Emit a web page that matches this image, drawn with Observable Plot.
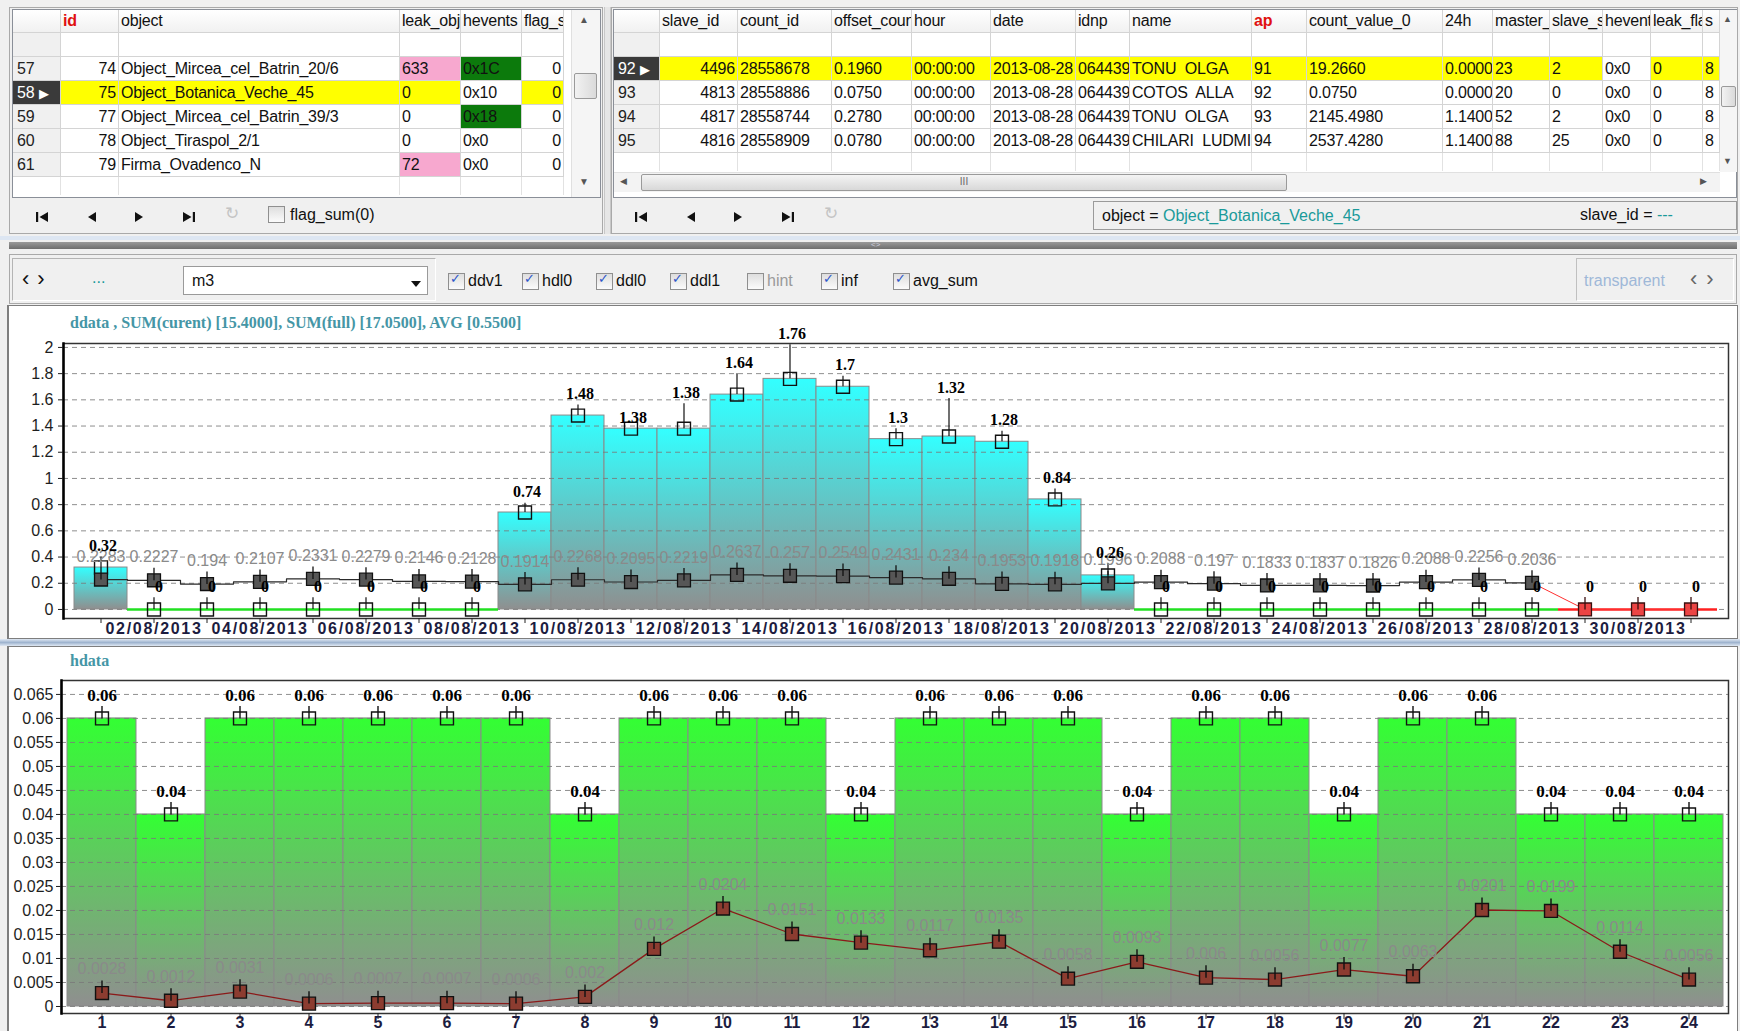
<!DOCTYPE html>
<html>
<head>
<meta charset="utf-8">
<script src="https://cdn.jsdelivr.net/npm/d3@7"></script>
<script src="https://cdn.jsdelivr.net/npm/@observablehq/plot@0.6"></script>
<style>
*{box-sizing:border-box;}
html,body{margin:0;padding:0;}
body{width:1740px;height:1031px;position:relative;overflow:hidden;background:#f0f0f0;font-family:"Liberation Sans",Arial,sans-serif;font-size:16px;color:#111;}
.a{position:absolute;}
.cell{position:absolute;white-space:pre;overflow:hidden;padding:0 2px;border-right:1px solid #d4d4d4;border-bottom:1px solid #d4d4d4;line-height:23px;letter-spacing:-0.2px;}
.chk{position:absolute;width:15px;height:15px;border:1px solid #8f8f8f;background:linear-gradient(#dedede,#fbfbfb);}
.chk.on::after{content:"\2713";position:absolute;left:1px;top:-3px;font-family:"DejaVu Sans";font-size:13px;font-weight:bold;color:#2c55c8;}
.plotbox svg{overflow:visible;display:block;}
#topchart g[aria-label="x-axis tick label"] text{letter-spacing:1.7px;}
</style>
</head>
<body>
<script>
// ===== chart data =====
// top chart: ddata, daily values August 2013
const ddDays = [1,2,3,4,5,6,7,8,9,10,11,12,13,14,15,16,17,18,19,20,21,22,23,24,25,26,27,28,29,30,31];
const ddValue = [0.32,0,0,0,0,0,0,0,0.74,1.48,1.38,1.38,1.64,1.76,1.7,1.3,1.32,1.28,0.84,0.26,0,0,0,0,0,0,0,0,0,0,0];
const ddTop = [0.40,0.09,0.09,0.09,0.09,0.09,0.09,0.09,0.81,1.56,1.38,1.57,1.80,2.02,1.78,1.38,1.61,1.36,0.92,0.35,0.09,0.09,0.09,0.09,0.09,0.09,0.09,0.09,0.09,0.09,0.09];
const ddAvg = [0.2283,0.2227,0.194,0.2107,0.2331,0.2279,0.2146,0.2128,0.1914,0.2268,0.2095,0.2219,0.2637,0.257,0.2549,0.2431,0.234,0.1953,0.1918,0.1996,0.2088,0.197,0.1833,0.1837,0.1826,0.2088,0.2256,0.2036,null,null,null];
const ddMissing = [false,false,false,false,false,false,false,false,false,false,false,false,false,false,false,false,false,false,false,false,false,false,false,false,false,false,false,false,true,true,true];
const ddTitle = "ddata , SUM(curent) [15.4000], SUM(full) [17.0500], AVG [0.5500]";
// bottom chart: hdata, hourly values
const hHours = [1,2,3,4,5,6,7,8,9,10,11,12,13,14,15,16,17,18,19,20,21,22,23,24];
const hValue = [0.06,0.04,0.06,0.06,0.06,0.06,0.06,0.04,0.06,0.06,0.06,0.04,0.06,0.06,0.06,0.04,0.06,0.06,0.04,0.06,0.06,0.04,0.04,0.04];
const hAvg = [0.0028,0.0012,0.0031,0.0006,0.0007,0.0007,0.0006,0.002,0.012,0.0204,0.0151,0.0133,0.0117,0.0135,0.0058,0.0093,0.006,0.0056,0.0077,0.0063,0.0201,0.0199,0.0114,0.0056];
const hTitle = "hdata";

// ===== table data =====
const leftCols = [
  {h:"", w:48}, {h:"id", w:58, al:"right", red:true}, {h:"object", w:281}, {h:"leak_obj", w:61},
  {h:"hevents", w:61}, {h:"flag_sum", w:42, al:"right"}
];
const leftRows = [
  {n:"57", c:["74","Object_Mircea_cel_Batrin_20/6","633","0x1C","0"], bg:{2:"#f7a8cf",3:"#0c7a0c"}},
  {n:"58", sel:true, c:["75","Object_Botanica_Veche_45","0","0x10","0"], bg:{3:"#ffffff"}},
  {n:"59", c:["77","Object_Mircea_cel_Batrin_39/3","0","0x18","0"], bg:{3:"#0c7a0c"}},
  {n:"60", c:["78","Object_Tiraspol_2/1","0","0x0","0"]},
  {n:"61", c:["79","Firma_Ovadenco_N","72","0x0","0"], bg:{2:"#f7a8cf"}}
];
const rightCols = [
  {h:"", w:46}, {h:"slave_id", w:78, al:"right"}, {h:"count_id", w:94}, {h:"offset_count", w:80},
  {h:"hour", w:79}, {h:"date", w:85}, {h:"idnp", w:54}, {h:"name", w:122}, {h:"ap", w:55, red:true},
  {h:"count_value_0", w:136}, {h:"24h", w:50}, {h:"master_id", w:57}, {h:"slave_status", w:53},
  {h:"hevents", w:48}, {h:"leak_flag", w:52}, {h:"s", w:17}
];
const rightRows = [
  {n:"92", sel:true, c:["4496","28558678","0.1960","00:00:00","2013-08-28","0644390000000","TONU  OLGA","91","19.2660","0.0000","23","2","0x0","0","8"], bg:{12:"#ffffff"}},
  {n:"93", c:["4813","28558886","0.0750","00:00:00","2013-08-28","0644390000000","COTOS  ALLA","92","0.0750","0.0000","20","0","0x0","0","8"]},
  {n:"94", c:["4817","28558744","0.2780","00:00:00","2013-08-28","0644390000000","TONU  OLGA","93","2145.4980","1.1400","52","2","0x0","0","8"]},
  {n:"95", c:["4816","28558909","0.0780","00:00:00","2013-08-28","0644390000000","CHILARI  LUDMILA","94","2537.4280","1.1400","88","25","0x0","0","8"]}
];
const toolChecks = [["ddv1",true],["hdl0",true],["ddl0",true],["ddl1",true],["hint",false],["inf",true],["avg_sum",true]];

// ===== helpers =====
function el(x,y,w,h,css,html,cls){
  const d=document.createElement("div");
  d.className=cls||"a";
  Object.assign(d.style,{left:x+"px",top:y+"px"});
  if(w!=null) d.style.width=w+"px";
  if(h!=null) d.style.height=h+"px";
  Object.assign(d.style,css||{});
  if(html!=null) d.innerHTML=html;
  document.body.appendChild(d);
  return d;
}
function drawGrid(x0, cols, rows){
  let x=x0;
  cols.forEach((c,i)=>{
    el(x,10,c.w,23,{background:"linear-gradient(#ffffff,#f1f1f1)",color:c.red?"#e01010":"#111",fontWeight:c.red?"bold":"normal",lineHeight:"22px"},c.h,"cell");
    el(x,33,c.w,24,{background:i===0?"#f0f0f0":"#fff"},"","cell");
    rows.forEach((r,j)=>{
      const y=57+24*j;
      if(i===0){
        el(x,y,c.w,24,{background:r.sel?"#3a3a3a":"#f0f0f0",color:r.sel?"#fff":"#222",paddingLeft:"4px"},r.n+(r.sel?'<span style="font-size:13px;margin-left:5px">&#9654;</span>':""),"cell");
      } else {
        let bg=r.sel?"#ffff00":"#fff";
        if(r.bg && r.bg[i-1]) bg=r.bg[i-1];
        el(x,y,c.w,24,{background:bg,textAlign:c.al||"left"},r.c[i-1],"cell");
      }
    });
    el(x,57+24*rows.length,c.w,18,{borderBottom:"none",borderRight:"1px solid #e2e2e2"},"","cell");
    x+=c.w;
  });
  return x;
}
function navIcons(x0,y){
  const ic=[
    '<svg width="14" height="12"><rect x="1" y="1" width="2.2" height="10" fill="#111"/><path d="M13 1 L4.5 6 L13 11Z" fill="#111"/></svg>',
    '<svg width="14" height="12"><path d="M11 1 L3 6 L11 11Z" fill="#111"/></svg>',
    '<svg width="14" height="12"><path d="M3 1 L11 6 L3 11Z" fill="#111"/></svg>',
    '<svg width="14" height="12"><path d="M1 1 L9.5 6 L1 11Z" fill="#111"/><rect x="10.8" y="1" width="2.2" height="10" fill="#111"/></svg>'
  ];
  const dx=[0,50,97,147];
  ic.forEach((s,i)=>el(x0+dx[i],y,16,14,{},s));
  el(x0+190,y-6,20,22,{color:"#c4c4c4",fontFamily:"DejaVu Sans",fontSize:"17px"},"&#8635;");
}

// ===== top grids =====
el(9,7,594,227,{border:"1px solid #a9a9a9",background:"#f0f0f0"});
el(12,9,589,189,{background:"#fff",border:"1px solid #8a8f98"});
drawGrid(13,leftCols,leftRows);
el(571,10,29,187,{background:"#f5f5f5",borderLeft:"1px solid #e0e0e0"});
el(579,14,14,14,{fontSize:"10px",color:"#555"},"&#9650;");
el(579,176,14,14,{fontSize:"10px",color:"#555"},"&#9660;");
el(574,73,23,26,{background:"linear-gradient(90deg,#f2f2f2,#dadada)",border:"1px solid #9a9a9a",borderRadius:"2px"});
navIcons(35,209);
el(268,206,17,17,{},"","chk");
el(290,203,120,24,{lineHeight:"24px"},"flag_sum(0)");

el(604,7,7,227,{background:"#e6e6e6",borderLeft:"1px solid #c8c8c8",borderRight:"1px solid #c8c8c8"});
el(611,7,1127,227,{border:"1px solid #a9a9a9",background:"#f0f0f0"});
el(613,9,1124,189,{background:"#fff",border:"1px solid #8a8f98"});
drawGrid(614,rightCols,rightRows);
el(1720,10,17,162,{background:"#f5f5f5"});
el(1723,14,12,12,{fontSize:"9px",color:"#555"},"&#9650;");
el(1723,156,12,12,{fontSize:"9px",color:"#555"},"&#9660;");
el(1721,86,15,21,{background:"linear-gradient(90deg,#f2f2f2,#dadada)",border:"1px solid #9a9a9a",borderRadius:"2px"});
el(614,172,1106,20,{background:"#f3f3f3",borderTop:"1px solid #e0e0e0"});
el(620,176,12,12,{fontSize:"9px",color:"#555"},"&#9664;");
el(1700,176,12,12,{fontSize:"9px",color:"#555"},"&#9654;");
el(641,174,646,17,{background:"linear-gradient(#f4f4f4,#d8d8d8)",border:"1px solid #9a9a9a",borderRadius:"2px",textAlign:"center",fontSize:"10px",lineHeight:"14px",color:"#666"},"III");
navIcons(634,209);
el(1093,201,644,29,{border:"1px solid #9a9a9a",background:"#f0f0f0",lineHeight:"27px",paddingLeft:"8px"},'object = <span style="color:#1a9a9a">Object_Botanica_Veche_45</span>');
el(1580,203,150,24,{lineHeight:"24px"},'slave_id = <span style="color:#1a9a9a">---</span>');

// splitter
el(0,236,1740,4,{background:"#dde6f2"});
el(9,242,1728,7,{background:"linear-gradient(#9a9a9a,#6e6e6e)"});
el(871,241,20,8,{fontSize:"8px",color:"#ccd",lineHeight:"8px"},"&lt;&gt;");

// toolbar
el(9,254,1728,50,{border:"1px solid #a9a9a9",background:"#f0f0f0"});
el(12,258,424,43,{border:"1px solid #b4b4b4",borderRightColor:"#fff",borderBottomColor:"#fff"});
el(22,266,40,26,{lineHeight:"26px",fontSize:"22px",letterSpacing:"8px"},"&#8249;&#8250;");
el(92,266,30,24,{lineHeight:"24px",color:"#1a9a9a"},"...");
el(183,266,245,29,{background:"#fff",border:"1px solid #9a9a9a",lineHeight:"27px",paddingLeft:"8px"},"m3");
el(410,275,12,10,{},'<svg width="12" height="10"><path d="M1 2 L11 2 L6 8Z" fill="#111"/></svg>');
const chkX=[448,522,596,670,747,821,893];
toolChecks.forEach(([lab,on],i)=>{
  el(chkX[i],273,17,17,{},"", on?"chk on":"chk");
  el(chkX[i]+20,268,80,26,{lineHeight:"26px",color:on?"#111":"#9a9a9a"},lab);
});
el(1576,258,158,43,{border:"1px solid #c0c0c0",borderRightColor:"#fff",borderBottomColor:"#fff"});
el(1584,268,100,26,{lineHeight:"26px",color:"#9fb8d8"},"transparent");
el(1690,266,44,26,{lineHeight:"26px",fontSize:"22px",letterSpacing:"9px",color:"#666"},"&#8249;&#8250;");

// chart panels
el(7,305,1731,334,{background:"#fff",border:"1px solid #7e7e7e",borderLeftWidth:"2px"});
el(0,639,1740,7,{background:"linear-gradient(#dfe8f3,#9fb4cf,#dfe8f3)"});
el(7,646,1731,400,{background:"#fff",border:"1px solid #7e7e7e",borderLeftWidth:"2px"});

// ===== charts =====
const sqTick = {draw(ctx,size){const h=Math.sqrt(size)/2;ctx.moveTo(-h,-h);ctx.lineTo(h,-h);ctx.lineTo(h,h);ctx.lineTo(-h,h);ctx.closePath();ctx.moveTo(0,-h-6);ctx.lineTo(0,0);}};
const gradDefs=(id,topColor)=>()=>{
  const s=d3.create("svg:defs");
  const g=s.append("linearGradient").attr("id",id).attr("x1","0").attr("y1","0").attr("x2","0").attr("y2","1");
  g.append("stop").attr("offset","0").attr("stop-color",topColor);
  g.append("stop").attr("offset","1").attr("stop-color","#8f8f8f");
  return s.node();
};
const serif="Liberation Serif, Times New Roman, serif";
const sans="Liberation Sans, Arial, sans-serif";

try {
  const dd = ddDays.map((day,i)=>({day, v:ddValue[i], top:ddTop[i], avg:ddAvg[i], miss:ddMissing[i]}));
  const ddBars = dd.filter(d=>d.v>0);
  const ddZero = dd.filter(d=>d.v===0 && !d.miss);
  const ddMiss = dd.filter(d=>d.miss);
  const ddAvgRows = dd.filter(d=>d.avg!=null);
  const firstMiss = dd.findIndex(d=>d.miss);
  const ddRed = dd.slice(firstMiss-1).map(d=>({day:d.day, y:d.miss?0:d.avg}));
  const ddYTicks = d3.ticks(0,2,10);

  const topPlot = Plot.plot({
    width:1726, height:326, marginLeft:54, marginRight:7, marginTop:31, marginBottom:20,
    style:{fontFamily:sans, fontSize:"16px", background:"transparent", overflow:"visible", color:"#1e1e1e"},
    x:{type:"band", domain:ddDays, padding:0, axis:null, label:null},
    y:{domain:[-0.069,2.03], axis:null, label:null},
    marks:[
      gradDefs("gCyan","#33ffff"),
      Plot.barY(ddBars,{x:"day",y:"v",fill:"url(#gCyan)",stroke:"#8a8a8a",strokeWidth:1}),
      Plot.gridY(ddYTicks,{stroke:"#7a7a7a",strokeOpacity:0.85,strokeDasharray:"5,4"}),
      Plot.tickY(ddZero,{x:"day",y:()=>0,stroke:"#22e022",strokeWidth:2.5}),
      Plot.tickY(ddMiss,{x:"day",y:()=>0,stroke:"#ff2020",strokeWidth:2.5}),
      Plot.line(ddAvgRows,{x:"day",y:"avg",stroke:"#2a2a2a",strokeWidth:1.2,curve:"step"}),
      Plot.line(ddRed,{x:"day",y:"y",stroke:"#ff3030",strokeWidth:1}),
      Plot.ruleX(dd.filter(d=>!d.miss),{x:"day",y1:"v",y2:"top",stroke:"#111",strokeWidth:1.2}),
      Plot.dot(dd.filter(d=>!d.miss),{x:"day",y:"v",symbol:"square",r:7.3,fill:"none",stroke:"#111",strokeWidth:1.4}),
      Plot.dot(ddAvgRows,{x:"day",y:"avg",symbol:sqTick,r:7.3,fill:"#565656",stroke:"#111",strokeWidth:1.3}),
      Plot.dot(ddMiss,{x:"day",y:()=>0,symbol:sqTick,r:7.3,fill:"#ec4444",stroke:"#3a1010",strokeWidth:1.3}),
      Plot.text(ddAvgRows,{x:"day",y:"avg",text:d=>String(d.avg),dy:-23,fill:"#8a8a8a",fontSize:16}),
      Plot.text(ddBars,{x:"day",y:"top",text:d=>String(d.v),dy:-11,dx:2,fontFamily:serif,fontWeight:"bold",fontSize:16,fill:"#000"}),
      Plot.text(dd.filter(d=>d.v===0),{x:"day",y:"top",text:d=>String(d.v),dy:-11,dx:5,fontFamily:serif,fontWeight:"bold",fontSize:16,fill:"#000"}),
      Plot.frame({stroke:"#333",strokeWidth:1.5}),
      Plot.frame({anchor:"left",stroke:"#000",strokeWidth:2.5,strokeDasharray:"2,1.5"}),
      Plot.axisY(ddYTicks,{tickSize:5,tickPadding:5,tickFormat:d=>String(d),fontSize:16,color:"#1e1e1e",label:null}),
      Plot.axisX(ddDays,{tickSize:5,tickFormat:()=>"",color:"#222",label:null}),
      Plot.axisX(ddDays.filter(d=>d%2===0),{tickSize:0,tickPadding:4,tickFormat:d=>String(d).padStart(2,"0")+"/08/2013",fontWeight:"bold",fontSize:16,color:"#1c1c40",label:null})
    ]
  });
  const tb = el(9,312,1726,326,{},null,"a plotbox"); tb.id="topchart"; tb.appendChild(topPlot);
  el(70,312,900,22,{fontFamily:serif,fontWeight:"bold",fontSize:"16px",color:"#4596a6",lineHeight:"22px"},ddTitle);

  const hd = hHours.map((hour,i)=>({hour, v:hValue[i], avg:hAvg[i]}));
  const hYTicks = d3.ticks(0,0.065,13);
  const botPlot = Plot.plot({
    width:1726, height:359, marginLeft:52, marginRight:7, marginTop:8, marginBottom:18,
    style:{fontFamily:sans, fontSize:"16px", background:"transparent", overflow:"visible", color:"#1e1e1e"},
    x:{type:"band", domain:hHours, padding:0, axis:null, label:null},
    y:{domain:[-0.00146,0.0679], axis:null, label:null},
    marks:[
      gradDefs("gGreen","#33ff33"),
      Plot.barY(hd,{x:"hour",y:"v",fill:"url(#gGreen)",stroke:"#8a8a8a",strokeWidth:1}),
      Plot.gridY(hYTicks,{stroke:"#7a7a7a",strokeOpacity:0.85,strokeDasharray:"5,4"}),
      Plot.line(hd,{x:"hour",y:"avg",stroke:"#8b1a1a",strokeWidth:1.3}),
      Plot.dot(hd,{x:"hour",y:"v",symbol:sqTick,r:7.3,fill:"none",stroke:"#111",strokeWidth:1.4}),
      Plot.dot(hd,{x:"hour",y:"avg",symbol:sqTick,r:7.3,fill:"#8c3c30",stroke:"#111",strokeWidth:1.4}),
      Plot.text(hd,{x:"hour",y:"avg",text:d=>String(d.avg),dy:-24,fill:"#8a8a8a",fontSize:16}),
      Plot.text(hd,{x:"hour",y:"v",text:d=>String(d.v),dy:-23,fontFamily:serif,fontWeight:"bold",fontSize:17,fill:"#000"}),
      Plot.frame({stroke:"#333",strokeWidth:1.5}),
      Plot.frame({anchor:"left",stroke:"#000",strokeWidth:2.5,strokeDasharray:"2,1.5"}),
      Plot.axisY(hYTicks,{tickSize:5,tickPadding:3,tickFormat:d=>String(d),fontSize:16,color:"#1e1e1e",label:null}),
      Plot.axisX(hHours,{tickSize:6,tickFormat:()=>"",color:"#222",label:null}),
      Plot.axisX(hHours,{tickSize:0,tickPadding:3,tickFormat:d=>String(d),fontWeight:"bold",fontSize:16,color:"#1c1c40",label:null})
    ]
  });
  const bb = el(9,672,1726,359,{},null,"a plotbox"); bb.appendChild(botPlot);
  el(70,650,200,22,{fontFamily:serif,fontWeight:"bold",fontSize:"16px",color:"#4596a6",lineHeight:"22px"},hTitle);
} catch(e) {
  el(20,400,1600,200,{color:"red",fontSize:"20px"},String(e && e.stack || e));
}
</script>
</body>
</html>
